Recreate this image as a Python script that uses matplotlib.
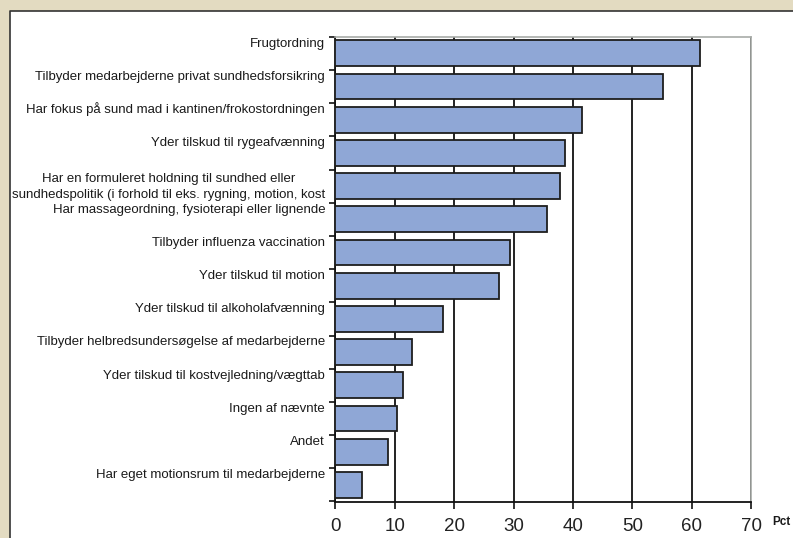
import matplotlib
matplotlib.use("Agg")
import matplotlib.pyplot as plt
from matplotlib.lines import Line2D
from matplotlib.patches import Rectangle

# data, top to bottom as in the chart
categories = [
    "Frugtordning",
    "Tilbyder medarbejderne privat sundhedsforsikring",
    "Har fokus på sund mad i kantinen/frokostordningen",
    "Yder tilskud til rygeafvænning",
    "Har en formuleret holdning til sundhed eller\nsundhedspolitik (i forhold til eks. rygning, motion, kost",
    "Har massageordning, fysioterapi eller lignende",
    "Tilbyder influenza vaccination",
    "Yder tilskud til motion",
    "Yder tilskud til alkoholafvænning",
    "Tilbyder helbredsundersøgelse af medarbejderne",
    "Yder tilskud til kostvejledning/vægttab",
    "Ingen af nævnte",
    "Andet",
    "Har eget motionsrum til medarbejderne",
]
pct = [61.3, 55.2, 41.5, 38.7, 37.8, 35.6, 29.4, 27.6, 18.1, 12.9, 11.4, 10.4, 8.8, 4.5]
xticks = [0, 10, 20, 30, 40, 50, 60, 70]

W, H = 793, 538
plt.rcParams["font.family"] = ["Liberation Sans", "DejaVu Sans"]

fig = plt.figure(figsize=(W / 100, H / 100), dpi=100)
fig.patch.set_facecolor("#e3dbc1")
# white sheet with a dark edge only on top and left
x0, y1 = 10 / W, 1 - 11 / H
fig.add_artist(Rectangle((x0, 0), 1 - x0, y1, transform=fig.transFigure,
                         facecolor="white", edgecolor="none", zorder=-1))
fig.add_artist(Line2D([x0, x0, 1], [0, y1, y1], transform=fig.transFigure,
                      color="#333333", linewidth=1.2, zorder=-1))

ax = fig.add_axes([335.3 / W, 1 - 501.5 / H, 416 / W, (501.5 - 36.7) / H])
ax.set_facecolor("white")
n = len(categories)
ypos = list(range(n))
ax.barh(ypos, pct, height=0.78, color="#8fa7d6", edgecolor="#1e1e1e", linewidth=1.3, zorder=3)

ax.set_xlim(0, 70)
ax.set_ylim(n - 0.5, -0.5)
ax.set_xticks(xticks)
ax.set_xticklabels([str(t) for t in xticks], fontsize=13.5, color="#222222")
ax.xaxis.grid(True, color="#111111", linewidth=1.3, zorder=0)
ax.set_axisbelow(True)

# ticks between categories on the y axis
ax.set_yticks([i - 0.5 for i in range(n + 1)])
ax.set_yticklabels([])
ax.tick_params(axis="y", direction="out", length=4, width=1.2, color="#111111")
ax.tick_params(axis="x", direction="out", length=5, width=1.2, color="#111111", pad=7)

for side in ["left", "bottom"]:
    ax.spines[side].set_color("#111111")
    ax.spines[side].set_linewidth(1.3)
for side in ["top", "right"]:
    ax.spines[side].set_color("#a8aca8")
    ax.spines[side].set_linewidth(1.2)

# category labels sit near the top of each band; first line on the same baseline
band_px = (501.5 - 36.7) / n
line_px = 19
for i, lab in enumerate(categories):
    extra = lab.count("\n") * line_px / band_px
    ax.text(-1.7, i - 0.5 + 0.30 + extra, lab, ha="right", va="baseline", multialignment="center",
            fontsize=9.5, color="#1a1a1a", linespacing=1.45, clip_on=False)

fig.text(781.5 / W, 1 - 522 / H, "Pct", ha="center", va="center", fontsize=8.5,
         fontweight="bold", color="#1a1a1a")

fig.savefig("out.png", dpi=100, facecolor=fig.get_facecolor())
